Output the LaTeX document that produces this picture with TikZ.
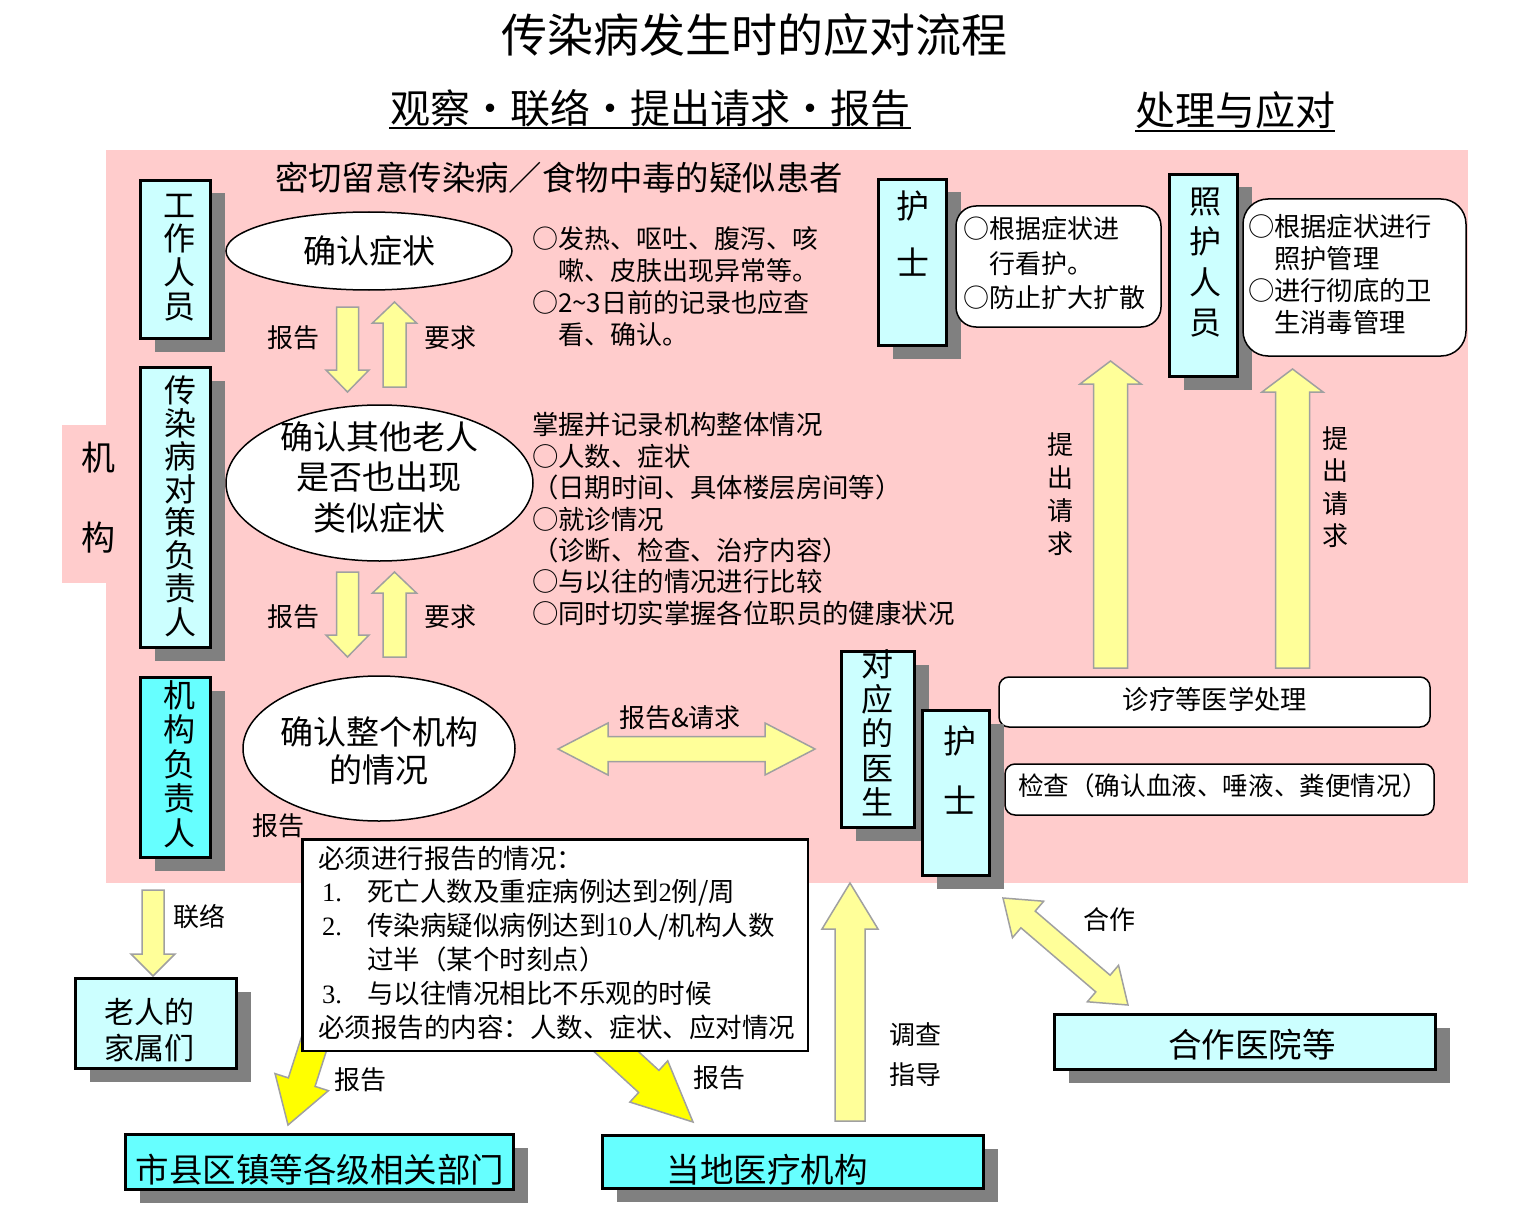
\documentclass[tikz,border=0pt]{standalone}
\usepackage{fontspec}
\setmainfont{Noto Sans CJK SC}
\newfontfamily\numfont{Liberation Serif}
\usetikzlibrary{calc,shadows,shapes.geometric}
\definecolor{bgpink}{HTML}{FFCCCC}
\definecolor{lcyan}{HTML}{CCFFFF}
\definecolor{bcyan}{HTML}{66FFFF}
\definecolor{pyellow}{HTML}{FFFF99}
\definecolor{byellow}{HTML}{FFFF00}
\definecolor{agray}{HTML}{A0A0A0}
\definecolor{sgray}{HTML}{808080}
\newcommand\fs[2]{\fontsize{#1}{#2}\selectfont}
\newcommand\nb[1]{\makebox[49pt][l]{\hspace{4pt}{\numfont #1}}}
\newcommand\mdot{\makebox[1em]{·}}
% block arrow: [style]{from}{to}{shaft half}{head half}{head length}
\newcommand\blockarrow[6][]{%
  \coordinate (ba-c) at ($(#3)!#6!(#2)$);
  \draw[#1] ($(#2)!#4!90:(#3)$) -- ($(ba-c)!#4!90:(#3)$) -- ($(ba-c)!#5!90:(#3)$) -- (#3)
    -- ($(ba-c)!#5!-90:(#3)$) -- ($(ba-c)!#4!-90:(#3)$) -- ($(#2)!#4!-90:(#3)$) -- cycle;}
\newcommand\dblarrow[6][]{%
  \coordinate (da-a) at ($(#2)!#6!(#3)$);
  \coordinate (da-b) at ($(#3)!#6!(#2)$);
  \draw[#1] (#2) -- ($(da-a)!#5!90:(#3)$) -- ($(da-a)!#4!90:(#3)$) -- ($(da-b)!#4!90:(#3)$)
    -- ($(da-b)!#5!90:(#3)$) -- (#3) -- ($(da-b)!#5!-90:(#3)$) -- ($(da-b)!#4!-90:(#3)$)
    -- ($(da-a)!#4!-90:(#3)$) -- ($(da-a)!#5!-90:(#3)$) -- cycle;}
\begin{document}
\begin{tikzpicture}[x=1pt,y=-1pt,
  every node/.style={inner sep=0pt, outer sep=0pt},
  vbox/.style={rectangle, draw=black, line width=3pt, fill=lcyan,
    drop shadow={shadow xshift=14pt, shadow yshift=-13pt, fill=sgray, opacity=1}},
  cbox/.style={vbox, fill=bcyan},
  rbox/.style={rectangle, draw=black, line width=1.5pt, fill=white, rounded corners=#1},
  rbox/.default=12pt,
  ell/.style={ellipse, draw=black, line width=1.5pt, fill=white},
  parr/.style={fill=pyellow, draw=agray, line width=1.5pt},
  barr/.style={fill=byellow, draw=agray, line width=1.5pt},
  txt/.style={font=\fs{26}{32}, align=left},
  lbl/.style={font=\fs{26}{30}},
  vtxt/.style={align=center}]
\useasboundingbox (0,0) rectangle (1526,1217);
\fill[white] (0,0) rectangle (1526,1217);
\fill[bgpink] (106,150) rectangle (1468,883);
\fill[bgpink] (62,425) rectangle (106,583);

% titles
\node[font=\fs{46}{50}] (title) at (754,35) {传染病发生时的应对流程};
\node[font=\fs{40}{44}] (hd1) at (650,108) {观察\mdot 联络\mdot 提出请求\mdot 报告};
\draw[line width=2pt] ($(hd1.west)+(-1,20)$) -- ($(hd1.east)+(1,20)$);
\node[font=\fs{40}{44}] (hd2) at (1235,110) {处理与应对};
\draw[line width=2pt] ($(hd2.west)+(0,21)$) -- ($(hd2.east)+(0,21)$);

\node[vtxt, font=\fs{34}{80}] (jg) at (98,498) {机\\构};
\node[font=\fs{33.4}{36}, anchor=west] (watch) at (275,178) {密切留意传染病／食物中毒的疑似患者};

% left column boxes
\node[vbox, minimum width=70pt, minimum height=158pt] (staff) at (175.5,259.5) {};
\node[vtxt, font=\fs{32}{33.7}] (staffT) at (179,257.5) {工\\作\\人\\员};
\node[vbox, minimum width=70pt, minimum height=280pt] (resp) at (175.5,507.5) {};
\node[vtxt, font=\fs{32}{33.1}] (respT) at (180,506) {传\\染\\病\\对\\策\\负\\责\\人};
\node[cbox, minimum width=70pt, minimum height=180pt] (head) at (175.5,767.5) {};
\node[vtxt, font=\fs{32}{34.5}] (headT) at (179,764) {机\\构\\负\\责\\人};

% ellipses
\node[ell, minimum width=286pt, minimum height=78pt, font=\fs{33}{36}] (e1) at (369,251) {确认症状};
\node[ell, minimum width=307pt, minimum height=156pt] (e2) at (379.5,483) {};
\node[vtxt, font=\fs{33}{40.5}] (e2T) at (379,477) {确认其他老人\\是否也出现\\类似症状};
\node[ell, minimum width=272pt, minimum height=145pt] (e3) at (379,748.5) {};
\node[vtxt, font=\fs{33}{38}] (e3T) at (379,751) {确认整个机构\\的情况};

% report / request arrows
\coordinate (a1s) at (347.5,307); \coordinate (a1e) at (347.5,392);
\blockarrow[parr]{a1s}{a1e}{11pt}{21.5pt}{22pt}
\coordinate (a2s) at (394.5,387); \coordinate (a2e) at (394.5,302);
\blockarrow[parr]{a2s}{a2e}{11.5pt}{22pt}{21pt}
\coordinate (a3s) at (347.5,572); \coordinate (a3e) at (347.5,657);
\blockarrow[parr]{a3s}{a3e}{11pt}{21.5pt}{22pt}
\coordinate (a4s) at (394.5,657); \coordinate (a4e) at (394.5,572);
\blockarrow[parr]{a4s}{a4e}{11.5pt}{22pt}{21pt}
\node[lbl] (r1) at (293,338) {报告};
\node[lbl] (q1) at (450,338) {要求};
\node[lbl] (r2) at (293,617) {报告};
\node[lbl] (q2) at (450,617) {要求};
\node[lbl] (r3) at (278,826) {报告};

% text blocks
\node[txt, anchor=west] (sym) at (532,287) {○发热、呕吐、腹泻、咳\\　嗽、皮肤出现异常等。\\○2\textasciitilde3日前的记录也应查\\　看、确认。};
\node[txt, font=\fs{26.4}{31.4}, anchor=west] (whole) at (532,519) {掌握并记录机构整体情况\\○人数、症状\\（日期时间、具体楼层房间等）\\○就诊情况\\（诊断、检查、治疗内容）\\○与以往的情况进行比较\\○同时切实掌握各位职员的健康状况};

% right top
\node[vbox, minimum width=68pt, minimum height=166pt] (nurse1) at (912.5,262.5) {};
\node[vtxt, font=\fs{33}{57}] (nurse1T) at (913,233.5) {护\\士};
\node[rbox=20pt, minimum width=205pt, minimum height=121pt] (nb1) at (1058.5,266.5) {};
\node[txt, font=\fs{26}{34.5}, anchor=west] (nb1T) at (963,263.5) {○根据症状进\\　行看护。\\○防止扩大扩散};
\node[vbox, minimum width=68pt, minimum height=202pt] (carer) at (1203.5,275.5) {};
\node[vtxt, font=\fs{32}{40.3}] (carerT) at (1205,262.5) {照\\护\\人\\员};
\node[rbox=25pt, minimum width=223pt, minimum height=157pt] (cb) at (1354.5,277.5) {};
\node[txt, font=\fs{26.3}{31.7}, anchor=west] (cbT) at (1248,274.5) {○根据症状进行\\　照护管理\\○进行彻底的卫\\　生消毒管理};

\coordinate (p1s) at (1110.5,668); \coordinate (p1e) at (1110.5,361);
\blockarrow[parr]{p1s}{p1e}{17pt}{30.5pt}{23pt}
\coordinate (p2s) at (1292.5,668); \coordinate (p2e) at (1292.5,369);
\blockarrow[parr]{p2s}{p2e}{17pt}{30.5pt}{23pt}
\node[vtxt, font=\fs{26}{33}] (p1T) at (1060,494) {提\\出\\请\\求};
\node[vtxt, font=\fs{26}{32.5}] (p2T) at (1335,487) {提\\出\\请\\求};

% doctor / nurse
\node[rbox=10pt, minimum width=431pt, minimum height=50pt] (treat) at (1214.5,702) {};
\node[font=\fs{26.3}{30}] (treatT) at (1215,699) {诊疗等医学处理};
\node[rbox=10pt, minimum width=429pt, minimum height=51pt] (exam) at (1219.5,789.5) {};
\node[font=\fs{25.6}{30}, anchor=west] (examT) at (1018,786) {检查（确认血液、唾液、粪便情况）};
\node[vbox, minimum width=73pt, minimum height=176pt] (doc) at (878,739.5) {};
\node[vtxt, font=\fs{32}{34.5}] (docT) at (877,733) {对\\应\\的\\医\\生};
\node[vbox, minimum width=67pt, minimum height=165pt] (nurse2) at (956,793) {};
\node[vtxt, font=\fs{33}{60}] (nurse2T) at (960,770) {护\\士};

\coordinate (h1) at (558,749); \coordinate (h2) at (815,749);
\dblarrow[parr]{h1}{h2}{12.5pt}{26pt}{50pt}
\node[lbl] (hT) at (680,718) {报告\&请求};

% bottom left
\coordinate (l1s) at (153,890); \coordinate (l1e) at (153,976);
\blockarrow[parr]{l1s}{l1e}{11pt}{22pt}{22pt}
\node[lbl] (l1T) at (199,917) {联络};
\node[vbox, minimum width=161pt, minimum height=90pt] (fam) at (156,1023.5) {};
\node[vtxt, font=\fs{30}{36}] (famT) at (149,1030) {老人的\\家属们};

\coordinate (y1s) at (328,1000); \coordinate (y1e) at (288,1125);
\blockarrow[barr]{y1s}{y1e}{14pt}{28pt}{45pt}
\coordinate (y2s) at (572,1011); \coordinate (y2e) at (693,1122);
\blockarrow[barr]{y2s}{y2e}{15pt}{28pt}{60pt}

\node[draw=black, line width=2.5pt, fill=white, minimum width=505.5pt, minimum height=211.5pt] (note) at (555,945) {};
\node[align=left, font=\fs{26.5}{33.8}, anchor=west] (noteT) at (318,942.5) {必须进行报告的情况：\\\nb{1.}死亡人数及重症病例达到{\numfont 2}例/周\\\nb{2.}传染病疑似病例达到{\numfont 10}人/机构人数\\\hspace*{49pt}过半（某个时刻点）\\\nb{3.}与以往情况相比不乐观的时候\\必须报告的内容：人数、症状、应对情况};

\node[lbl] (y1T) at (360,1080) {报告};
\node[lbl] (y2T) at (719,1078) {报告};

\node[cbox, minimum width=388pt, minimum height=55pt] (city) at (319.5,1162) {};
\node[font=\fs{33.5}{36}] (cityT) at (320,1170) {市县区镇等各级相关部门};
\node[cbox, minimum width=381pt, minimum height=53pt] (local) at (793,1162) {};
\node[font=\fs{33.5}{36}] (localT) at (767,1170) {当地医疗机构};

\coordinate (u1s) at (850,1121); \coordinate (u1e) at (850,883);
\blockarrow[parr]{u1s}{u1e}{15pt}{28pt}{46pt}
\node[vtxt, font=\fs{26}{40}] (u1T) at (915,1055) {调查\\指导};

\coordinate (c1) at (1003,898); \coordinate (c2) at (1128,1005);
\dblarrow[parr]{c1}{c2}{11pt}{24pt}{33pt}
\node[lbl] (c1T) at (1109,920) {合作};
\node[vbox, minimum width=381pt, minimum height=55pt] (coop) at (1245,1042) {};
\node[font=\fs{33.5}{36}] (coopT) at (1252,1045) {合作医院等};
\end{tikzpicture}
\end{document}
